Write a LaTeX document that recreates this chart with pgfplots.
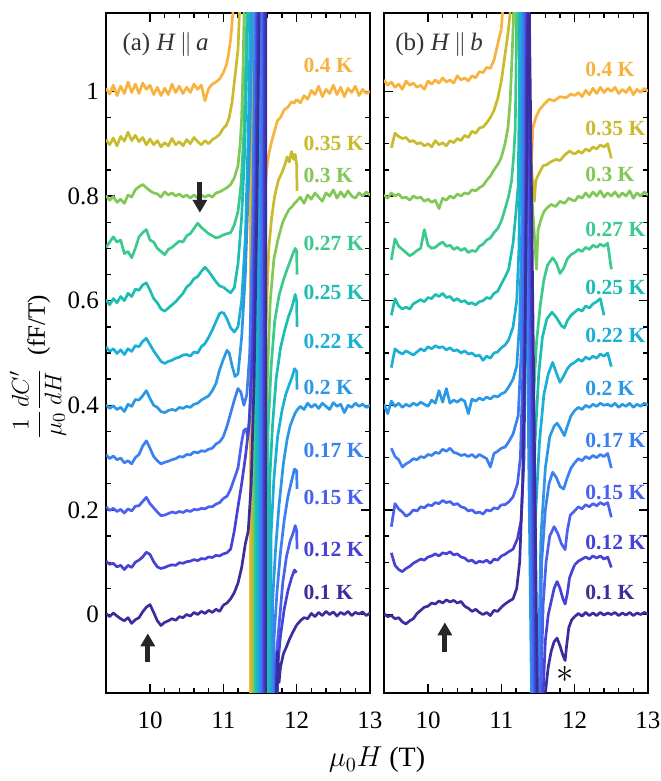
\documentclass[border=0pt]{standalone}
\usepackage{fontspec}
\setmainfont{Liberation Serif}
\usepackage{pgfplots}
\pgfplotsset{compat=1.18}
\usepackage{pgfplotstable}
\usetikzlibrary{arrows.meta}

\definecolor{c01}{HTML}{3A2E9E}
\definecolor{c012}{HTML}{4642D6}
\definecolor{c015}{HTML}{4A60EE}
\definecolor{c017}{HTML}{3A80F0}
\definecolor{c02}{HTML}{2A98E4}
\definecolor{c022}{HTML}{1CAFD6}
\definecolor{c025}{HTML}{1DBDB2}
\definecolor{c027}{HTML}{3CC98E}
\definecolor{c03}{HTML}{82C856}
\definecolor{c035}{HTML}{C8BB2C}
\definecolor{c04}{HTML}{F8B33E}

\pgfplotstableread{
x a01 a012 a015 a017 a02 a022 a025 a027 a03 a035 a04
9.40 0.002 0.102 0.206 0.306 0.401 0.512 0.602 0.702 0.801 0.908 1.006
9.45 -0.004 0.096 0.199 0.298 0.394 0.503 0.592 0.712 0.792 0.898 0.995
9.50 0.003 0.098 0.203 0.303 0.399 0.508 0.604 0.722 0.799 0.911 1.012
9.55 -0.003 0.091 0.197 0.296 0.392 0.499 0.596 0.712 0.788 0.896 0.992
9.60 -0.008 0.094 0.201 0.299 0.396 0.506 0.608 0.716 0.794 0.914 1.010
9.65 -0.012 0.086 0.194 0.290 0.388 0.497 0.600 0.690 0.786 0.905 0.996
9.70 -0.006 0.094 0.202 0.294 0.402 0.508 0.614 0.694 0.802 0.922 1.018
9.75 -0.017 0.090 0.198 0.288 0.398 0.503 0.608 0.682 0.798 0.906 0.998
9.80 -0.010 0.100 0.207 0.300 0.411 0.514 0.622 0.700 0.812 0.916 1.014
9.85 -0.006 0.104 0.208 0.306 0.410 0.512 0.620 0.722 0.818 0.904 0.996
9.90 0.005 0.110 0.216 0.322 0.418 0.522 0.630 0.730 0.822 0.912 1.016
9.95 0.014 0.119 0.224 0.332 0.428 0.528 0.634 0.736 0.816 0.898 1.004
10.00 0.019 0.115 0.212 0.318 0.413 0.516 0.620 0.716 0.810 0.909 1.012
10.05 0.004 0.101 0.204 0.302 0.400 0.504 0.604 0.712 0.806 0.898 0.994
10.10 -0.012 0.091 0.196 0.294 0.396 0.494 0.596 0.700 0.804 0.906 1.008
10.15 -0.021 0.088 0.189 0.288 0.388 0.484 0.584 0.694 0.798 0.894 0.992
10.20 -0.015 0.090 0.190 0.291 0.386 0.480 0.580 0.688 0.808 0.902 1.006
10.25 -0.012 0.093 0.193 0.293 0.390 0.484 0.586 0.698 0.802 0.896 0.994
10.30 -0.008 0.095 0.196 0.296 0.392 0.486 0.592 0.702 0.806 0.910 1.014
10.35 -0.011 0.094 0.194 0.298 0.390 0.490 0.598 0.708 0.800 0.898 0.998
10.40 -0.004 0.099 0.197 0.302 0.396 0.492 0.606 0.714 0.804 0.904 1.010
10.45 -0.006 0.098 0.195 0.301 0.394 0.496 0.614 0.712 0.798 0.896 0.996
10.50 0.000 0.101 0.199 0.306 0.398 0.497 0.626 0.724 0.802 0.908 1.008
10.55 -0.003 0.102 0.197 0.305 0.396 0.494 0.632 0.728 0.796 0.900 0.998
10.60 0.004 0.105 0.201 0.311 0.402 0.502 0.642 0.738 0.802 0.912 1.014
10.65 0.000 0.103 0.200 0.309 0.404 0.500 0.646 0.748 0.796 0.904 1.004
10.70 0.006 0.107 0.203 0.313 0.410 0.512 0.656 0.740 0.802 0.898 1.012
10.75 0.002 0.106 0.202 0.312 0.414 0.518 0.664 0.734 0.798 0.906 0.982
10.80 0.008 0.110 0.206 0.316 0.418 0.530 0.656 0.728 0.802 0.900 1.006
10.85 0.004 0.109 0.206 0.318 0.428 0.544 0.646 0.724 0.798 0.908 1.014
10.90 0.010 0.113 0.211 0.326 0.442 0.560 0.636 0.720 0.806 0.912 1.018
10.95 0.006 0.112 0.214 0.330 0.468 0.576 0.628 0.722 0.808 0.918 1.024
11.00 0.018 0.116 0.222 0.340 0.488 0.578 0.626 0.726 0.812 0.930 1.036
}\tLa

\pgfplotstableread{
x a01 a02 a03 a04
12.00 -0.020 0.390 0.790 0.985
12.05 -0.012 0.398 0.798 0.978
12.10 -0.006 0.392 0.786 0.992
12.15 -0.008 0.404 0.802 0.985
12.20 0.002 0.396 0.794 1.002
12.25 -0.004 0.402 0.806 0.994
12.30 0.004 0.394 0.798 1.010
12.35 -0.002 0.404 0.790 0.990
12.40 0.006 0.398 0.806 1.004
12.45 0.000 0.392 0.800 0.996
12.50 0.005 0.405 0.812 1.012
12.55 -0.003 0.398 0.796 0.994
12.60 0.004 0.402 0.808 1.008
12.65 0.000 0.386 0.798 0.990
12.70 0.006 0.400 0.810 1.006
12.75 -0.002 0.396 0.800 0.998
12.80 0.004 0.404 0.796 1.010
12.85 0.001 0.398 0.806 0.992
12.90 0.005 0.402 0.800 1.004
12.95 -0.002 0.396 0.808 0.996
13.00 0.003 0.400 0.802 1.000
}\tRa

\pgfplotstableread{
x b01 b012 b015 b017 b02 b022 b025 b027 b03 b035 b04
9.40 0.002 nan nan nan 0.402 nan nan nan 0.802 nan 1.022
9.45 -0.004 nan nan nan 0.384 nan nan nan 0.796 nan 1.012
9.50 -0.002 0.118 0.168 0.318 0.408 0.472 0.572 0.678 0.806 0.892 1.018
9.55 -0.008 0.094 0.212 0.302 0.398 0.508 0.604 0.718 0.800 0.920 1.008
9.60 -0.006 0.086 0.202 0.296 0.404 0.502 0.590 0.704 0.804 0.914 1.014
9.65 -0.014 0.082 0.196 0.282 0.396 0.498 0.584 0.698 0.796 0.910 1.004
9.70 -0.018 0.088 0.188 0.288 0.402 0.504 0.588 0.692 0.798 0.912 1.020
9.75 -0.012 0.092 0.192 0.292 0.398 0.500 0.584 0.686 0.792 0.904 1.012
9.80 -0.008 0.098 0.200 0.298 0.404 0.496 0.594 0.690 0.800 0.906 1.016
9.85 0.002 0.102 0.198 0.296 0.400 0.502 0.598 0.696 0.796 0.900 1.008
9.90 0.008 0.106 0.206 0.302 0.406 0.508 0.602 0.700 0.798 0.902 1.012
9.95 0.014 0.104 0.204 0.300 0.402 0.504 0.598 0.736 0.790 0.896 1.004
10.00 0.016 0.110 0.210 0.306 0.398 0.512 0.606 0.706 0.794 0.900 1.020
10.05 0.022 0.112 0.208 0.304 0.410 0.508 0.604 0.700 0.788 0.894 1.014
10.10 0.020 0.116 0.214 0.310 0.404 0.514 0.612 0.702 0.792 0.906 1.022
10.15 0.026 0.112 0.212 0.308 0.428 0.510 0.608 0.708 0.776 0.898 1.016
10.20 0.022 0.118 0.218 0.316 0.406 0.512 0.614 0.712 0.796 0.902 1.026
10.25 0.028 0.116 0.214 0.312 0.432 0.506 0.606 0.704 0.792 0.896 1.018
10.30 0.024 0.120 0.216 0.318 0.404 0.510 0.608 0.706 0.800 0.906 1.022
10.35 0.027 0.114 0.210 0.310 0.410 0.504 0.600 0.698 0.796 0.902 1.016
10.40 0.022 0.116 0.212 0.308 0.406 0.506 0.604 0.702 0.804 0.910 1.030
10.45 0.025 0.110 0.206 0.304 0.412 0.500 0.598 0.696 0.800 0.906 1.022
10.50 0.016 0.108 0.204 0.306 0.408 0.504 0.600 0.700 0.806 0.916 1.026
10.55 0.012 0.102 0.198 0.302 0.384 0.498 0.594 0.692 0.804 0.912 1.020
10.60 0.006 0.104 0.200 0.306 0.412 0.500 0.596 0.696 0.812 0.924 1.030
10.65 0.010 0.098 0.194 0.300 0.408 0.494 0.592 0.694 0.810 0.920 1.026
10.70 0.004 0.102 0.196 0.306 0.414 0.496 0.598 0.704 0.816 0.930 1.038
10.75 0.000 0.100 0.192 0.302 0.410 0.486 0.600 0.708 0.820 0.932 1.036
10.80 0.004 0.104 0.200 0.298 0.416 0.494 0.606 0.716 0.830 0.940 1.046
10.85 -0.002 0.098 0.198 0.282 0.412 0.490 0.604 0.720 0.838 0.950 1.044
10.90 0.008 0.106 0.204 0.308 0.418 0.500 0.614 0.730 0.850 0.964 1.060
10.95 0.006 0.104 0.202 0.312 0.416 0.502 0.618 0.738 0.860 0.986 1.090
11.00 0.014 0.112 0.210 0.318 0.422 0.510 0.632 0.752 0.874 1.020 1.120
}\tLb

\pgfplotstableread{
x b01 b012 b015 b017 b02 b022 b025 b027 b03 b035 b04
12.00 -0.004 0.095 0.198 0.290 0.390 0.482 0.578 0.692 0.790 0.880 0.992
12.05 0.002 0.102 0.206 0.298 0.396 0.488 0.584 0.698 0.800 0.886 0.998
12.10 -0.003 0.106 0.202 0.294 0.392 0.484 0.580 0.694 0.796 0.882 0.990
12.15 0.004 0.110 0.210 0.302 0.400 0.492 0.590 0.702 0.806 0.890 1.002
12.20 -0.002 0.106 0.206 0.298 0.396 0.488 0.586 0.698 0.798 0.886 0.994
12.25 0.003 0.112 0.212 0.304 0.402 0.494 0.594 0.706 0.808 0.894 1.006
12.30 -0.002 0.108 0.208 0.300 0.398 0.490 0.598 0.702 0.800 0.890 0.996
12.35 0.004 0.112 0.214 0.306 0.404 0.498 0.604 0.708 0.810 0.898 1.008
12.40 -0.001 0.106 0.210 0.302 0.400 0.494 0.572 0.704 0.798 0.894 0.998
12.45 0.003 0.110 0.214 0.308 0.402 0.500 nan 0.710 0.806 0.900 1.006
12.50 0.000 0.090 0.186 0.280 0.398 0.474 nan 0.660 0.800 0.872 1.000
12.55 0.004 nan nan nan 0.404 nan nan nan 0.808 nan 1.008
12.60 -0.002 nan nan nan 0.396 nan nan nan 0.798 nan 0.996
12.65 0.003 nan nan nan 0.402 nan nan nan 0.806 nan 1.004
12.70 -0.001 nan nan nan 0.398 nan nan nan 0.800 nan 0.998
12.75 0.004 nan nan nan 0.404 nan nan nan 0.810 nan 1.008
12.80 -0.002 nan nan nan 0.396 nan nan nan 0.796 nan 0.994
12.85 0.003 nan nan nan 0.402 nan nan nan 0.806 nan 1.004
12.90 0.000 nan nan nan 0.398 nan nan nan 0.800 nan 0.998
12.95 0.004 nan nan nan 0.404 nan nan nan 0.808 nan 1.006
13.00 0.001 nan nan nan 0.400 nan nan nan 0.802 nan 1.000
}\tRb

\pgfplotsset{
  myax/.style={
    scale only axis, width=132pt, height=340pt,
    xmin=9.4, xmax=13, ymin=-0.15, ymax=1.15,
    xtick={10,11,12,13}, minor x tick num=4,
    ytick={0,0.2,0.4,0.6,0.8,1}, minor y tick num=3,
    tick align=inside, major tick length=4.5pt, minor tick length=2.5pt,
    axis line style={line width=0.8pt},
    every tick/.style={black, line width=0.7pt},
    tick label style={font=\fontsize{12.5}{14}\selectfont},
    /pgf/number format/assume math mode=true,
    xticklabel shift=6pt,
    unbounded coords=jump,
    every axis plot/.append style={line width=1.35pt, line join=round},
  },
}
\tikzset{
  tl/.style={anchor=west, inner sep=0pt, font=\bfseries\fontsize{10.8}{12}\selectfont},
  arr/.style={-{Triangle[length=6.5pt,width=7pt]}, line width=2.6pt, color=black!85},
}

\begin{document}
\begin{tikzpicture}
\path[use as bounding box] (-53pt,-44pt) rectangle (277pt,346.5pt);

% ---------------- panel (a) ----------------
\begin{axis}[myax, at={(0pt,0pt)}, anchor=south west]
\addplot[c04] table[x=x,y=a04]{\tLa};
\addplot[c04] coordinates {(11.00,1.036) (11.04,1.05) (11.07,1.07) (11.10,1.10) (11.13,1.15) (11.16,1.3) (11.18,3) (11.37,3) (11.37,-3) (11.55,-3) (11.565,0.80) (11.59,0.85) (11.62,0.88) (11.66,0.905) (11.70,0.925) (11.74,0.945) (11.78,0.95) (11.83,0.965) (11.88,0.97) (11.93,0.98) (11.97,0.978) (12.00,0.985)};
\addplot[c04] table[x=x,y=a04]{\tRa};

\addplot[c035] table[x=x,y=a035]{\tLa};
\addplot[c035] coordinates {(11.00,0.93) (11.04,0.935) (11.08,0.95) (11.12,0.98) (11.16,1.03) (11.20,1.08) (11.22,1.15) (11.24,3) (11.39,3) (11.39,-3) (11.56,-3) (11.58,0.55) (11.62,0.70) (11.66,0.76) (11.70,0.80) (11.75,0.83) (11.80,0.845) (11.84,0.86) (11.87,0.875) (11.90,0.865) (11.93,0.885) (11.96,0.87) (11.98,0.88) (12.00,0.86) (12.005,0.81)};

\addplot[c03] table[x=x,y=a03]{\tLa};
\addplot[c03] coordinates {(11.00,0.812) (11.05,0.816) (11.10,0.822) (11.15,0.835) (11.20,0.858) (11.23,0.9) (11.25,0.95) (11.27,1.05) (11.29,1.2) (11.30,3) (11.415,3) (11.415,-3) (11.57,-3) (11.60,0.45) (11.64,0.60) (11.69,0.68) (11.75,0.72) (11.81,0.75) (11.86,0.765) (11.90,0.775) (11.94,0.78) (11.97,0.786) (12.00,0.79)};
\addplot[c03] table[x=x,y=a03]{\tRa};

\addplot[c027] table[x=x,y=a027]{\tLa};
\addplot[c027] coordinates {(11.00,0.726) (11.05,0.728) (11.10,0.73) (11.15,0.745) (11.20,0.77) (11.24,0.82) (11.28,0.92) (11.31,1.08) (11.33,1.2) (11.34,3) (11.435,3) (11.435,-3) (11.58,-3) (11.61,0.35) (11.65,0.47) (11.70,0.56) (11.76,0.61) (11.82,0.64) (11.87,0.66) (11.91,0.675) (11.95,0.69) (11.98,0.70) (12.00,0.695) (12.005,0.65)};

\addplot[c025] table[x=x,y=a025]{\tLa};
\addplot[c025] coordinates {(11.00,0.626) (11.05,0.62) (11.10,0.615) (11.15,0.625) (11.20,0.67) (11.25,0.76) (11.29,0.88) (11.32,1.05) (11.34,1.2) (11.36,3) (11.455,3) (11.455,-3) (11.60,-3) (11.63,0.25) (11.67,0.36) (11.72,0.45) (11.78,0.51) (11.84,0.545) (11.89,0.57) (11.93,0.585) (11.96,0.60) (11.98,0.612) (12.00,0.60) (12.005,0.55)};

\addplot[c022] table[x=x,y=a022]{\tLa};
\addplot[c022] coordinates {(11.00,0.578) (11.05,0.565) (11.10,0.548) (11.15,0.54) (11.20,0.55) (11.25,0.60) (11.30,0.72) (11.34,0.92) (11.37,1.15) (11.39,3) (11.475,3) (11.475,-3) (11.62,-3) (11.65,0.15) (11.69,0.26) (11.74,0.34) (11.80,0.39) (11.85,0.42) (11.90,0.44) (11.94,0.455) (11.97,0.47) (12.00,0.465) (12.005,0.43)};

\addplot[c02] table[x=x,y=a02]{\tLa};
\addplot[c02] coordinates {(11.00,0.488) (11.05,0.505) (11.08,0.50) (11.12,0.475) (11.16,0.455) (11.20,0.46) (11.25,0.53) (11.30,0.65) (11.35,0.85) (11.39,1.1) (11.41,3) (11.50,3) (11.50,-3) (11.64,-3) (11.67,0.02) (11.71,0.12) (11.76,0.21) (11.82,0.29) (11.87,0.335) (11.91,0.36) (11.95,0.375) (11.98,0.385) (12.00,0.39)};
\addplot[c02] table[x=x,y=a02]{\tRa};

\addplot[c017] table[x=x,y=a017]{\tLa};
\addplot[c017] coordinates {(11.00,0.34) (11.05,0.36) (11.10,0.385) (11.15,0.41) (11.20,0.432) (11.24,0.425) (11.28,0.40) (11.32,0.42) (11.36,0.5) (11.40,0.75) (11.43,1.1) (11.45,3) (11.52,3) (11.52,-3) (11.66,-3) (11.69,-0.05) (11.73,0.04) (11.78,0.12) (11.83,0.18) (11.88,0.225) (11.93,0.255) (11.97,0.278) (12.00,0.275) (12.005,0.24)};

\addplot[c015] table[x=x,y=a015]{\tLa};
\addplot[c015] coordinates {(11.00,0.222) (11.05,0.226) (11.10,0.24) (11.15,0.26) (11.20,0.28) (11.25,0.33) (11.28,0.352) (11.31,0.355) (11.33,0.34) (11.36,0.38) (11.40,0.55) (11.44,0.9) (11.46,1.3) (11.48,3) (11.54,3) (11.54,-3) (11.68,-3) (11.71,-0.10) (11.76,-0.02) (11.81,0.06) (11.86,0.11) (11.91,0.14) (11.95,0.155) (11.98,0.17) (12.00,0.16) (12.005,0.125)};

\addplot[c012] table[x=x,y=a012]{\tLa};
\addplot[c012] coordinates {(11.00,0.116) (11.05,0.118) (11.10,0.125) (11.15,0.16) (11.20,0.206) (11.25,0.25) (11.30,0.30) (11.35,0.36) (11.40,0.5) (11.44,0.8) (11.48,1.3) (11.50,3) (11.56,3) (11.56,-3) (11.70,-3) (11.74,-0.10) (11.78,-0.04) (11.83,0.01) (11.88,0.045) (11.93,0.07) (11.97,0.085) (12.00,0.08)};

\addplot[c01] table[x=x,y=a01]{\tLa};
\addplot[c01] coordinates {(11.00,0.018) (11.05,0.022) (11.10,0.030) (11.15,0.042) (11.20,0.060) (11.25,0.090) (11.30,0.135) (11.34,0.16) (11.38,0.25) (11.42,0.45) (11.46,0.8) (11.50,1.3) (11.52,3) (11.58,3) (11.58,-3) (11.70,-3) (11.72,-0.16) (11.74,-0.07) (11.76,-0.13) (11.78,-0.10) (11.82,-0.075) (11.86,-0.062) (11.90,-0.048) (11.94,-0.036) (11.97,-0.028) (12.00,-0.020)};
\addplot[c01] table[x=x,y=a01]{\tRa};

\node[anchor=west, inner sep=0pt, font=\fontsize{12.5}{14}\selectfont, text=black!80] at (axis cs:9.62,1.09) {(a) \textit{H}\,$\parallel$\,\textit{a}};
\node[tl, text=c04]  at (axis cs:12.09,1.05)  {0.4 K};
\node[tl, text=c035] at (axis cs:12.09,0.90)  {0.35 K};
\node[tl, text=c03]  at (axis cs:12.09,0.84)  {0.3 K};
\node[tl, text=c027] at (axis cs:12.09,0.71)  {0.27 K};
\node[tl, text=c025] at (axis cs:12.09,0.615) {0.25 K};
\node[tl, text=c022] at (axis cs:12.09,0.522) {0.22 K};
\node[tl, text=c02]  at (axis cs:12.09,0.434) {0.2 K};
\node[tl, text=c017] at (axis cs:12.09,0.314) {0.17 K};
\node[tl, text=c015] at (axis cs:12.09,0.223) {0.15 K};
\node[tl, text=c012] at (axis cs:12.09,0.124) {0.12 K};
\node[tl, text=c01]  at (axis cs:12.09,0.042) {0.1 K};
\draw[arr] (axis cs:10.68,0.826) -- (axis cs:10.68,0.768);
\draw[arr] (axis cs:9.97,-0.091) -- (axis cs:9.97,-0.036);
\end{axis}

% ---------------- panel (b) ----------------
\begin{axis}[myax, at={(139pt,0pt)}, anchor=south west, yticklabels={}]
\addplot[c04] table[x=x,y=b04]{\tLb};
\addplot[c04] coordinates {(11.00,1.12) (11.02,1.16) (11.06,1.3) (11.41,0.86) (11.43,0.93) (11.47,0.95) (11.52,0.965) (11.58,0.975) (11.65,0.985) (11.72,0.982) (11.80,0.99) (11.88,0.988) (11.95,0.995) (12.00,0.992)};
\addplot[c04] table[x=x,y=b04]{\tRb};

\addplot[c035] table[x=x,y=b035]{\tLb};
\addplot[c035] coordinates {(11.00,1.02) (11.05,1.07) (11.09,1.11) (11.12,1.15) (11.14,1.3) (11.45,0.79) (11.47,0.83) (11.52,0.845) (11.57,0.858) (11.62,0.86) (11.68,0.866) (11.75,0.87) (11.80,0.868) (11.86,0.878) (11.93,0.886) (12.00,0.88)};
\addplot[c035] table[x=x,y=b035]{\tRb};

\addplot[c03] table[x=x,y=b03]{\tLb};
\addplot[c03] coordinates {(11.00,0.874) (11.05,0.9) (11.09,0.93) (11.12,0.98) (11.15,1.08) (11.17,1.16) (11.19,1.3) (11.48,0.66) (11.50,0.735) (11.54,0.755) (11.58,0.77) (11.62,0.777) (11.68,0.784) (11.74,0.78) (11.80,0.79) (11.86,0.786) (11.92,0.796) (12.00,0.79)};
\addplot[c03] table[x=x,y=b03]{\tRb};

\addplot[c027] table[x=x,y=b027]{\tLb};
\addplot[c027] coordinates {(11.00,0.752) (11.05,0.775) (11.10,0.80) (11.14,0.83) (11.17,0.88) (11.19,0.93) (11.21,1.15) (11.22,1.3) (11.44,0.42) (11.48,0.52) (11.53,0.59) (11.58,0.64) (11.63,0.668) (11.70,0.682) (11.75,0.672) (11.80,0.652) (11.85,0.662) (11.90,0.68) (11.95,0.688) (12.00,0.692)};
\addplot[c027] table[x=x,y=b027]{\tRb};

\addplot[c025] table[x=x,y=b025]{\tLb};
\addplot[c025] coordinates {(11.00,0.632) (11.05,0.645) (11.10,0.66) (11.16,0.71) (11.20,0.77) (11.23,0.82) (11.245,1.0) (11.25,1.3) (11.42,0.08) (11.46,0.33) (11.51,0.46) (11.56,0.53) (11.62,0.565) (11.69,0.578) (11.75,0.568) (11.82,0.552) (11.86,0.548) (11.90,0.562) (11.95,0.572) (12.00,0.578)};
\addplot[c025] table[x=x,y=b025]{\tRb};

\addplot[c022] table[x=x,y=b022]{\tLb};
\addplot[c022] coordinates {(11.00,0.51) (11.05,0.515) (11.10,0.525) (11.16,0.55) (11.21,0.6) (11.24,0.7) (11.26,0.9) (11.27,1.3) (11.43,-0.03) (11.47,0.2) (11.52,0.33) (11.58,0.42) (11.64,0.46) (11.70,0.482) (11.75,0.462) (11.80,0.444) (11.85,0.456) (11.90,0.47) (11.95,0.478) (12.00,0.482)};
\addplot[c022] table[x=x,y=b022]{\tRb};

\addplot[c02] table[x=x,y=b02]{\tLb};
\addplot[c02] coordinates {(11.00,0.422) (11.05,0.425) (11.10,0.435) (11.16,0.45) (11.21,0.475) (11.25,0.56) (11.28,0.75) (11.29,1.3) (11.44,-0.5) (11.50,-0.15) (11.54,0.15) (11.60,0.28) (11.66,0.34) (11.72,0.36) (11.76,0.366) (11.81,0.355) (11.86,0.342) (11.90,0.36) (11.95,0.38) (12.00,0.39)};
\addplot[c02] table[x=x,y=b02]{\tRb};

\addplot[c017] table[x=x,y=b017]{\tLb};
\addplot[c017] coordinates {(11.00,0.318) (11.05,0.32) (11.10,0.33) (11.16,0.345) (11.23,0.38) (11.27,0.5) (11.30,0.8) (11.31,1.3) (11.46,-0.5) (11.52,-0.15) (11.55,0.1) (11.60,0.2) (11.65,0.25) (11.70,0.272) (11.75,0.262) (11.80,0.245) (11.85,0.24) (11.90,0.262) (11.95,0.28) (12.00,0.29)};
\addplot[c017] table[x=x,y=b017]{\tRb};

\addplot[c015] table[x=x,y=b015]{\tLb};
\addplot[c015] coordinates {(11.00,0.21) (11.05,0.21) (11.10,0.215) (11.16,0.225) (11.22,0.25) (11.26,0.3) (11.30,0.5) (11.32,0.8) (11.33,1.3) (11.48,-0.5) (11.54,-0.15) (11.57,0.02) (11.61,0.1) (11.66,0.15) (11.72,0.168) (11.77,0.155) (11.82,0.135) (11.87,0.124) (11.90,0.16) (11.94,0.19) (12.00,0.198)};
\addplot[c015] table[x=x,y=b015]{\tRb};

\addplot[c012] table[x=x,y=b012]{\tLb};
\addplot[c012] coordinates {(11.00,0.112) (11.05,0.115) (11.10,0.12) (11.16,0.125) (11.22,0.145) (11.27,0.18) (11.31,0.3) (11.33,0.6) (11.35,1.3) (11.50,-0.5) (11.57,-0.15) (11.60,-0.05) (11.64,0.0) (11.68,0.025) (11.72,0.05) (11.76,0.063) (11.80,0.05) (11.84,0.03) (11.87,0.02) (11.90,0.04) (11.93,0.07) (11.97,0.085) (12.00,0.095)};
\addplot[c012] table[x=x,y=b012]{\tRb};

\addplot[c01] table[x=x,y=b01]{\tLb};
\addplot[c01] coordinates {(11.00,0.014) (11.05,0.02) (11.10,0.025) (11.16,0.03) (11.21,0.05) (11.25,0.1) (11.29,0.25) (11.32,0.5) (11.35,0.9) (11.37,1.3) (11.52,-0.5) (11.60,-0.15) (11.64,-0.10) (11.68,-0.07) (11.72,-0.052) (11.76,-0.045) (11.80,-0.06) (11.84,-0.078) (11.87,-0.088) (11.89,-0.06) (11.92,-0.025) (11.96,-0.01) (12.00,-0.004)};
\addplot[c01] table[x=x,y=b01]{\tRb};

\node[anchor=west, inner sep=0pt, font=\fontsize{12.5}{14}\selectfont, text=black!80] at (axis cs:9.55,1.09) {(b) \textit{H}\,$\parallel$\,\textit{b}};
\node[tl, text=c04]  at (axis cs:12.14,1.042) {0.4 K};
\node[tl, text=c035] at (axis cs:12.14,0.93)  {0.35 K};
\node[tl, text=c03]  at (axis cs:12.14,0.842) {0.3 K};
\node[tl, text=c027] at (axis cs:12.14,0.737) {0.27 K};
\node[tl, text=c025] at (axis cs:12.14,0.625) {0.25 K};
\node[tl, text=c022] at (axis cs:12.14,0.533) {0.22 K};
\node[tl, text=c02]  at (axis cs:12.14,0.432) {0.2 K};
\node[tl, text=c017] at (axis cs:12.14,0.333) {0.17 K};
\node[tl, text=c015] at (axis cs:12.14,0.234) {0.15 K};
\node[tl, text=c012] at (axis cs:12.14,0.137) {0.12 K};
\node[tl, text=c01]  at (axis cs:12.14,0.042) {0.1 K};
\draw[arr] (axis cs:10.23,-0.072) -- (axis cs:10.23,-0.015);
\node[font=\fontsize{16}{16}\selectfont] at (axis cs:11.87,-0.114) {$\ast$};
\end{axis}

\node[rotate=90, font=\fontsize{12.5}{15}\selectfont] at (-34pt,163pt) {$\displaystyle\frac{1}{\mu_0}\frac{dC'}{dH}$\ \ (fF/T)};
\node[font=\fontsize{14}{16}\selectfont] at (135.5pt,-33.5pt) {$\mu_0H$ (T)};
\end{tikzpicture}
\end{document}
